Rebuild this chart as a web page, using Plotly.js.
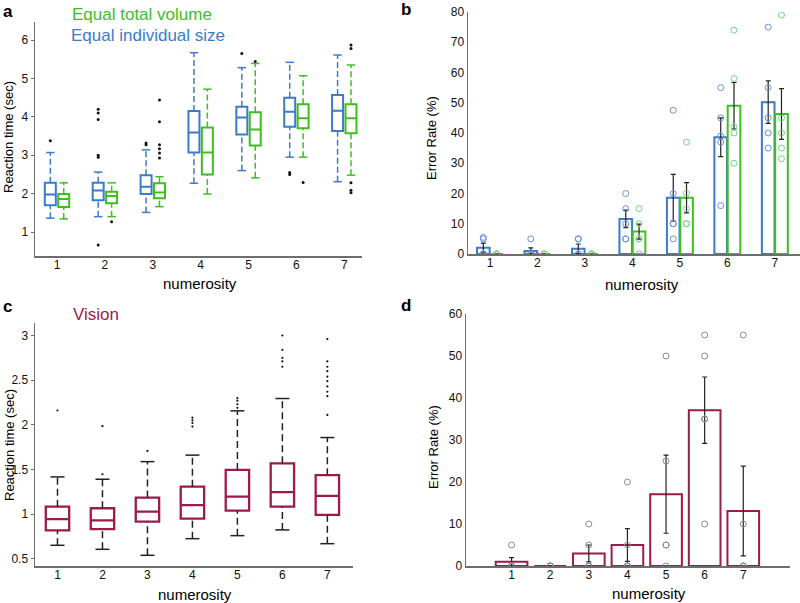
<!DOCTYPE html>
<html>
<head>
<meta charset="utf-8">
<script src="https://cdn.plot.ly/plotly-3.0.1.min.js"></script>
<style>html,body{margin:0;padding:0;background:#fff;}#chart{width:800px;height:603px;}</style>
</head>
<body>
<div id="chart"></div>
<script>
// ---------- data ----------
const numerosity = [1, 2, 3, 4, 5, 6, 7];

// Panel a: reaction time box stats (sec)
const aBlueQ1  = [1.70, 1.83, 1.99, 3.07, 3.54, 3.74, 3.63];
const aBlueMed = [1.98, 2.08, 2.18, 3.59, 3.98, 4.13, 4.16];
const aBlueQ3  = [2.28, 2.28, 2.48, 4.15, 4.26, 4.50, 4.57];
const aBlueLo  = [1.36, 1.40, 1.51, 2.27, 2.60, 2.95, 2.31];
const aBlueHi  = [3.07, 2.56, 3.14, 5.67, 5.28, 5.42, 5.61];
const aBlueOutX = [1, 2, 2, 2, 2, 2, 2, 3, 3, 5, 6, 6];
const aBlueOutY = [3.38, 0.66, 2.95, 3.00, 3.93, 4.10, 4.20, 3.27, 3.32, 5.65, 2.50, 2.55];

const aGreenQ1  = [1.65, 1.75, 1.88, 2.50, 3.25, 3.70, 3.57];
const aGreenMed = [1.86, 1.94, 2.03, 3.07, 3.67, 3.96, 3.96];
const aGreenQ3  = [1.99, 2.05, 2.27, 3.72, 4.12, 4.33, 4.33];
const aGreenLo  = [1.34, 1.40, 1.66, 1.99, 2.41, 2.95, 2.48];
const aGreenHi  = [2.28, 2.28, 2.44, 4.72, 5.39, 5.07, 5.35];
const aGreenOutX = [2, 3, 3, 3, 3, 3, 3, 5, 6, 7, 7, 7, 7, 7];
const aGreenOutY = [1.27, 2.93, 3.06, 3.17, 3.27, 3.87, 4.44, 5.44, 2.29, 5.87, 5.78, 2.28, 2.09, 2.02];

// Panel b: error rate (%)
const bBlueMean  = [2.1, 1.0, 1.7, 11.6, 18.6, 38.6, 50.2];
const bBlueSE    = [1.5, 1.0, 1.6, 2.9, 7.7, 6.4, 7.0];
const bGreenMean = [0, 0, 0, 7.4, 18.6, 49.0, 46.3];
const bGreenSE   = [null, null, null, 2.5, 5.0, 7.7, 8.4];
const bBluePts  = [[5, 5.5, 0, 0, 0], [5, 0, 0, 0, 0], [5, 5, 0, 0, 0], [20, 15, 10, 5, 5],
                   [47.5, 20, 10, 10, 5], [55, 45, 39, 37, 16], [75, 55, 45, 40, 35]];
const bGreenPts = [[0, 0, 0, 0, 0], [0, 0, 0, 0, 0], [0, 0, 0, 0, 0], [15, 10, 5, 5, 0],
                   [37, 20, 15, 10, 10], [74, 58, 42, 40, 30], [79, 45, 40, 35, 31.5]];

// Panel c: Vision reaction time box stats (sec)
const cQ1  = [0.818, 0.830, 0.915, 0.948, 1.038, 1.083, 0.990];
const cMed = [0.942, 0.930, 1.027, 1.100, 1.195, 1.245, 1.203];
const cQ3  = [1.083, 1.065, 1.184, 1.307, 1.494, 1.568, 1.435];
const cLo  = [0.650, 0.605, 0.538, 0.724, 0.758, 0.822, 0.668];
const cHi  = [1.416, 1.390, 1.587, 1.660, 2.156, 2.294, 1.857];
const cOutX = [1, 2, 2, 3, 4, 4, 4, 4, 5, 5, 5, 5, 6, 6, 6, 6, 6, 7, 7, 7, 7, 7, 7, 7, 7, 7, 7];
const cOutY = [2.16, 1.446, 1.984, 1.707, 1.98, 2.02, 2.05, 2.08, 2.19, 2.23, 2.27, 2.30,
               2.65, 2.71, 2.75, 2.84, 3.00, 2.11, 2.32, 2.37, 2.43, 2.49, 2.54, 2.60, 2.65, 2.71, 2.96];

// Panel d: Vision error rate (%)
const dMean = [1.0, 0, 3.0, 5.0, 17.1, 37.1, 13.1];
const dSE   = [1.0, null, 2.0, 3.9, 9.3, 7.9, 10.7];
const dPts  = [[5, 0, 0, 0, 0], [0, 0, 0, 0, 0], [10, 5, 0, 0, 0], [20, 5, 0, 0, 0],
               [50, 25, 5, 5, 0], [55, 50, 35, 35, 10], [55, 10, 0, 0, 0]];

// ---------- styles ----------
const BLUE = '#3b7bc8', GREEN = '#3cc01e', CRIMSON = '#9e1a4a';
const FONT = 'Liberation Sans, Arial, Helvetica, sans-serif';
const AXC = '#6e6e6e';

function boxTrace(q1, med, q3, color, xa, ya, name, og, width, lw) {
  const t = {type: 'box', x: numerosity, q1: q1, median: med, q3: q3,
    lowerfence: q1, upperfence: q3, boxpoints: false, whiskerwidth: 0,
    line: {color: color, width: lw || 2}, fillcolor: 'rgba(255,255,255,0)',
    xaxis: xa, yaxis: ya, name: name, offsetgroup: og, showlegend: false, hoverinfo: 'skip'};
  if (width) t.width = width;
  return t;
}
function whiskerTrace(q1, q3, lo, hi, color, dash, xa, ya, og) {
  const xs = [], ys = [];
  numerosity.forEach((n, i) => {
    xs.push(n, n, null, n, n, null);
    ys.push(lo[i], q1[i], null, q3[i], hi[i], null);
  });
  return {type: 'scatter', mode: 'lines', x: xs, y: ys, connectgaps: false,
    line: {color: color, width: 1.5, dash: dash}, xaxis: xa, yaxis: ya,
    offsetgroup: og, showlegend: false, hoverinfo: 'skip'};
}
function capTrace(lo, hi, color, size, xa, ya, og) {
  return {type: 'scatter', mode: 'markers', x: numerosity.concat(numerosity), y: lo.concat(hi),
    marker: {symbol: 'line-ew', size: size, line: {color: color, width: 1.5}},
    xaxis: xa, yaxis: ya, offsetgroup: og, showlegend: false, hoverinfo: 'skip'};
}
function dotsTrace(xs, ys, size, xa, ya, og) {
  return {type: 'scatter', mode: 'markers', x: xs, y: ys,
    marker: {color: '#111', size: size}, xaxis: xa, yaxis: ya, offsetgroup: og,
    showlegend: false, hoverinfo: 'skip'};
}
function ptsTrace(pts, color, xa, ya, og) {
  const xs = [], ys = [];
  pts.forEach((arr, i) => arr.forEach(v => { xs.push(numerosity[i]); ys.push(v); }));
  return {type: 'scatter', mode: 'markers', x: xs, y: ys,
    marker: {symbol: 'circle-open', size: 6, color: color, line: {width: 1}},
    xaxis: xa, yaxis: ya, offsetgroup: og, showlegend: false, hoverinfo: 'skip'};
}
function barTrace(mean, se, color, xa, ya, og, width) {
  const t = {type: 'bar', x: numerosity, y: mean,
    marker: {color: 'rgba(255,255,255,0)', line: {color: color, width: 2}},
    error_y: {type: 'data', array: se, visible: true, color: '#222', thickness: 1.2, width: 2.5},
    xaxis: xa, yaxis: ya, offsetgroup: og, showlegend: false, hoverinfo: 'skip'};
  if (width) t.width = width;
  return t;
}

const traces = [
  // panel a
  boxTrace(aBlueQ1, aBlueMed, aBlueQ3, BLUE, 'x', 'y', 'Equal individual size', 'blue'),
  boxTrace(aGreenQ1, aGreenMed, aGreenQ3, GREEN, 'x', 'y', 'Equal total volume', 'green'),
  whiskerTrace(aBlueQ1, aBlueQ3, aBlueLo, aBlueHi, BLUE, '6px,3px', 'x', 'y', 'blue'),
  capTrace(aBlueLo, aBlueHi, BLUE, 6, 'x', 'y', 'blue'),
  dotsTrace(aBlueOutX, aBlueOutY, 3, 'x', 'y', 'blue'),
  whiskerTrace(aGreenQ1, aGreenQ3, aGreenLo, aGreenHi, GREEN, '6px,3px', 'x', 'y', 'green'),
  capTrace(aGreenLo, aGreenHi, GREEN, 6, 'x', 'y', 'green'),
  dotsTrace(aGreenOutX, aGreenOutY, 3, 'x', 'y', 'green'),
  // panel b
  barTrace(bBlueMean, bBlueSE, BLUE, 'x2', 'y2', 'blue'),
  barTrace(bGreenMean, bGreenSE, GREEN, 'x2', 'y2', 'green'),
  ptsTrace(bBluePts, '#6b8fdc', 'x2', 'y2', 'blue'),
  ptsTrace(bGreenPts, '#72d680', 'x2', 'y2', 'green'),
  // panel c
  boxTrace(cQ1, cMed, cQ3, CRIMSON, 'x3', 'y3', 'Vision', 'vis', 0.52, 2.3),
  whiskerTrace(cQ1, cQ3, cLo, cHi, '#222', '7px,4px', 'x3', 'y3', 'vis'),
  capTrace(cLo, cHi, '#222', 10, 'x3', 'y3', 'vis'),
  dotsTrace(cOutX, cOutY, 2.2, 'x3', 'y3', 'vis'),
  // panel d
  barTrace(dMean, dSE, CRIMSON, 'x4', 'y4', 'vis', 0.82),
  ptsTrace(dPts, '#8a8a8a', 'x4', 'y4', 'vis')
];

function xax(domain, range, anchor) {
  return {domain: domain, range: range, anchor: anchor, showline: true, linecolor: AXC, linewidth: 1.5,
    ticks: '', tickvals: numerosity, showgrid: false, zeroline: false, ticklabelstandoff: -3,
    tickfont: {family: FONT, size: 12, color: '#111'}, fixedrange: true};
}
function yax(domain, range, anchor, tickvals, ticks) {
  return {domain: domain, range: range, anchor: anchor, showline: true, linecolor: AXC, linewidth: 1.5,
    ticks: ticks, ticklen: 3, tickcolor: AXC, tickvals: tickvals, showgrid: false, zeroline: false,
    tickfont: {family: FONT, size: 12, color: '#111'}, fixedrange: true};
}
const W = 800, H = 603;
const px = v => v / W, py = v => 1 - v / H;
function ann(text, x, y, size, color, opts) {
  return Object.assign({text: text, x: px(x), y: py(y), xref: 'paper', yref: 'paper',
    showarrow: false, xanchor: 'center', yanchor: 'middle',
    font: {family: FONT, size: size, color: color}}, opts || {});
}

const layout = {
  width: W, height: H, margin: {l: 0, r: 0, t: 0, b: 0},
  paper_bgcolor: '#fff', plot_bgcolor: '#fff', showlegend: false,
  boxmode: 'group', boxgap: 0.44, boxgroupgap: 0.18,
  barmode: 'group', bargap: 0.44, bargroupgap: 0.05,
  scattermode: 'group', scattergap: 0.44,
  xaxis:  xax([px(35), px(362)], [0.54, 7.37], 'y'),
  yaxis:  yax([py(256), py(22)], [0.375, 6.47], 'x', [1, 2, 3, 4, 5, 6], 'outside'),
  xaxis2: xax([px(468), px(800)], [0.537, 7.53], 'y2'),
  yaxis2: yax([py(254), py(12)], [0, 80], 'x2', [0, 10, 20, 30, 40, 50, 60, 70, 80], ''),
  xaxis3: xax([px(35), px(353)], [0.5, 7.57], 'y3'),
  yaxis3: yax([py(566), py(323)], [0.418, 3.14], 'x3', [0.5, 1, 1.5, 2, 2.5, 3], 'outside'),
  xaxis4: xax([px(466), px(790)], [-0.18, 8.21], 'y4'),
  yaxis4: yax([py(566), py(314)], [0, 60], 'x4', [0, 10, 20, 30, 40, 50, 60], ''),
  annotations: [
    ann('<b>a</b>', 1, 11, 17, '#000', {xanchor: 'left'}),
    ann('<b>b</b>', 399, 9, 17, '#000', {xanchor: 'left'}),
    ann('<b>c</b>', 1, 306, 17, '#000', {xanchor: 'left'}),
    ann('<b>d</b>', 399, 305, 17, '#000', {xanchor: 'left'}),
    ann('Equal total volume', 70, 14, 17, GREEN, {xanchor: 'left'}),
    ann('Equal individual size', 69, 36, 17, BLUE, {xanchor: 'left'}),
    ann('Vision', 96, 314, 17, CRIMSON),
    ann('numerosity', 200, 283, 15, '#000'),
    ann('numerosity', 642, 284, 15, '#000'),
    ann('numerosity', 195, 594, 15, '#000'),
    ann('numerosity', 649, 593, 15, '#000'),
    ann('Reaction time (sec)', 9, 137, 13, '#000', {textangle: -90}),
    ann('Reaction time (sec)', 9, 445, 13, '#000', {textangle: -90}),
    ann('Error Rate (%)', 431, 138, 13, '#000', {textangle: -90}),
    ann('Error Rate (%)', 433, 447, 13, '#000', {textangle: -90})
  ]
};

Plotly.newPlot('chart', traces, layout, {displayModeBar: false, staticPlot: true});
</script>
</body>
</html>
